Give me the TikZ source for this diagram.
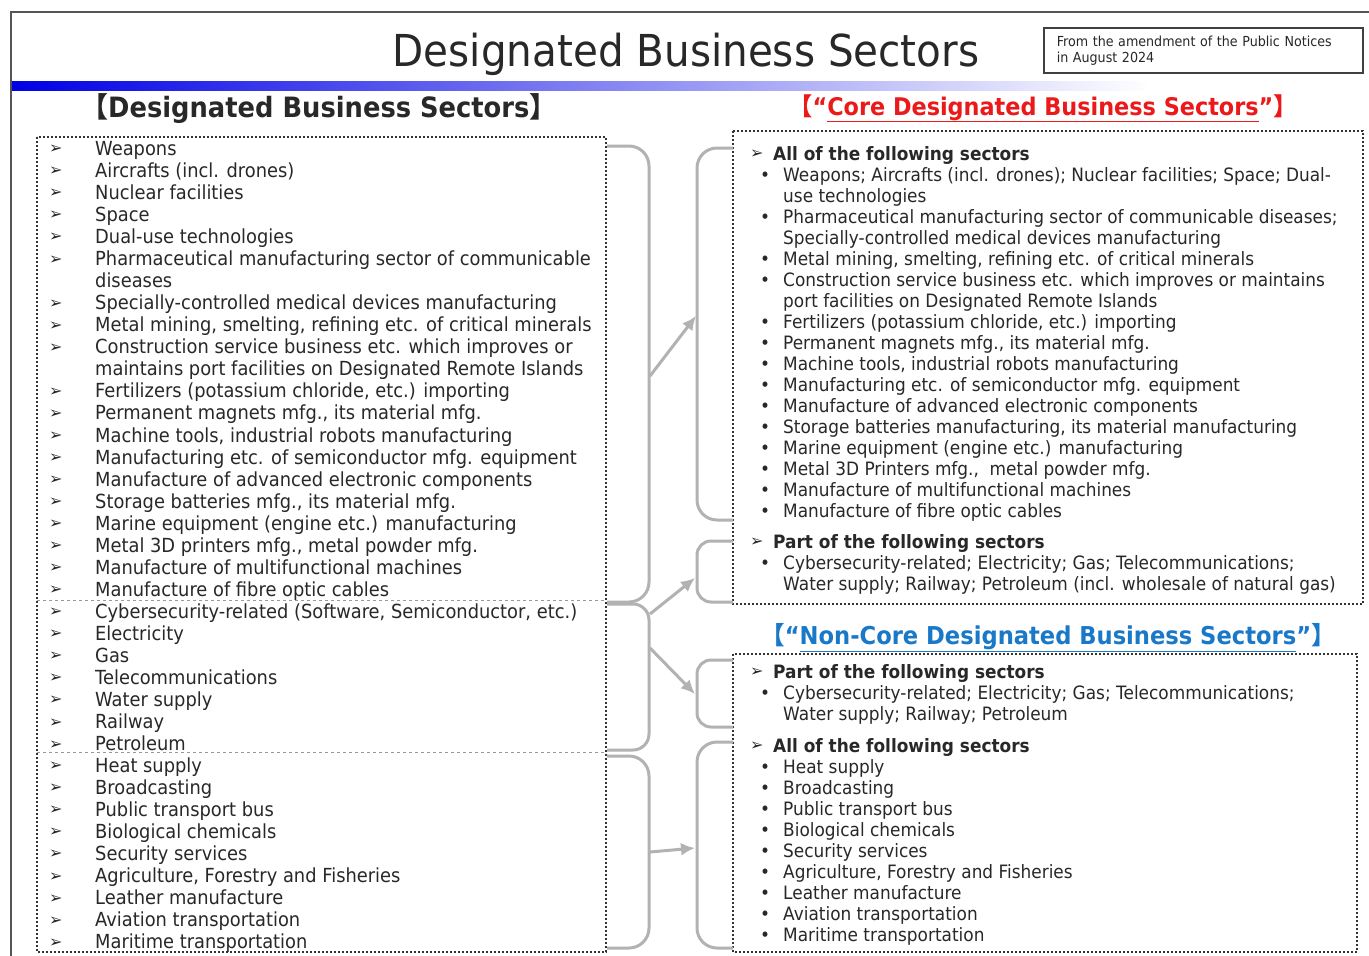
\documentclass[tikz,border=0pt]{standalone}
\usepackage{fontspec}
\setmainfont{DejaVu Sans}[FakeStretch=0.92]
\newfontfamily\cjk{Noto Sans CJK JP}
\newfontfamily\dingfont{DejaVu Sans Bold}
\usetikzlibrary{arrows.meta}

\definecolor{txtgray}{RGB}{40,40,40}
\definecolor{bracegray}{RGB}{178,178,178}
\definecolor{framegray}{RGB}{85,85,85}
\definecolor{coreRed}{RGB}{235,25,25}
\definecolor{noncoreBlue}{RGB}{25,120,200}

% brackets and list helpers
\newcommand{\lb}{\makebox[0.5em][r]{\cjk 【}}
\newcommand{\rb}{\makebox[0.5em][l]{\cjk 】}}
\newcommand{\bul}{\raisebox{1.5pt}{\dingfont\fontsize{16}{16}\selectfont ➢}}
\newcommand{\li}[1]{\makebox[50pt][l]{\hspace*{4pt}\bul}#1}
\newcommand{\lc}[1]{\hspace*{50pt}#1}
\newcommand{\hd}[1]{\makebox[23pt][l]{\bul}\textbf{#1}}
\newcommand{\ri}[1]{\hspace*{10pt}\makebox[23pt][l]{•}#1}
\newcommand{\rc}[1]{\hspace*{33pt}#1}

\begin{document}
\begin{tikzpicture}[x=1pt, y=-1pt, inner sep=0pt]
\tikzstyle{leftlist} = [anchor=north west, align=left, text=txtgray, font=\fontsize{19.4}{22.06}\selectfont]
\tikzstyle{rightlist} = [anchor=north west, align=left, text=txtgray, font=\fontsize{18.4}{21}\selectfont]
\tikzstyle{dotbox} = [draw=black!80, dotted, line width=2pt]
\tikzstyle{sepline} = [draw=black!40, dashed, line width=0.8pt]
\tikzstyle{brace} = [draw=bracegray, line width=3pt, rounded corners=20pt]
\tikzstyle{line} = [draw=bracegray, line width=3pt, -{Latex[length=14pt,width=13pt]}]
\tikzstyle{notebox} = [draw=black!75, line width=1.5pt, anchor=north west, align=left, text width=293pt, minimum height=45pt, inner xsep=13pt, text=txtgray, font=\fontsize{13.8}{16}\selectfont]

\useasboundingbox (0,0) rectangle (1369,956);
\fill[white] (0,0) rectangle (1369,956);

% frame and title bar
\draw[framegray, line width=2pt] (11,956) -- (11,12) -- (1369,12);
\shade[left color=blue!90!black, right color=white] (12,81) rectangle (1150,90);
\node[anchor=base, text=txtgray, font=\fontsize{44}{50}\selectfont] (title) at (686,66) {Designated Business Sectors};
\node[notebox] (note) at (1043,27) {From the amendment of the Public Notices\\in August 2024};

% headings
\node[anchor=base west, text=txtgray, font=\bfseries\fontsize{28}{32}\selectfont] (lefttitle) at (94,117) {\lb Designated Business Sectors\rb};
\node[anchor=base, text=coreRed, font=\bfseries\fontsize{24.3}{30}\selectfont] (coretitle) at (1043,115) {\lb “\underline{Core Designated Business Sectors}”\rb};
\node[anchor=base, text=noncoreBlue, font=\bfseries\fontsize{24.6}{30}\selectfont] (noncoretitle) at (1048,644) {\lb “\underline{Non-Core Designated Business Sectors}”\rb};

% left list
\draw[dotbox] (37,137) rectangle (606,952);
\draw[sepline] (37,600) -- (606,600);
\draw[sepline] (37,752) -- (606,752);
\node[leftlist] (grpA) at (45,139.6) {\strut\li{Weapons}\\
\li{Aircrafts (incl. drones)}\\
\li{Nuclear facilities}\\
\li{Space}\\
\li{Dual-use technologies}\\
\li{Pharmaceutical manufacturing sector of communicable}\\
\lc{diseases}\\
\li{Specially-controlled medical devices manufacturing}\\
\li{Metal mining, smelting, refining etc. of critical minerals}\\
\li{Construction service business etc. which improves or}\\
\lc{maintains port facilities on Designated Remote Islands}\\
\li{Fertilizers (potassium chloride, etc.) importing}\\
\li{Permanent magnets mfg., its material mfg.}\\
\li{Machine tools, industrial robots manufacturing}\\
\li{Manufacturing etc. of semiconductor mfg. equipment}\\
\li{Manufacture of advanced electronic components}\\
\li{Storage batteries mfg., its material mfg.}\\
\li{Marine equipment (engine etc.) manufacturing}\\
\li{Metal 3D printers mfg., metal powder mfg.}\\
\li{Manufacture of multifunctional machines}\\
\li{Manufacture of fibre optic cables}};
\node[leftlist] (grpB) at (45,602.6) {\strut\li{Cybersecurity-related (Software, Semiconductor, etc.)}\\
\li{Electricity}\\
\li{Gas}\\
\li{Telecommunications}\\
\li{Water supply}\\
\li{Railway}\\
\li{Petroleum}};
\node[leftlist] (grpC) at (45,756.6) {\strut\li{Heat supply}\\
\li{Broadcasting}\\
\li{Public transport bus}\\
\li{Biological chemicals}\\
\li{Security services}\\
\li{Agriculture, Forestry and Fisheries}\\
\li{Leather manufacture}\\
\li{Aviation transportation}\\
\li{Maritime transportation}};

% core box
\draw[dotbox] (733,131) rectangle (1363,604);
\node[rightlist] (core) at (750,145.3) {\strut\hd{All of the following sectors}\\
\ri{Weapons; Aircrafts (incl. drones); Nuclear facilities; Space; Dual-}\\
\rc{use technologies}\\
\ri{Pharmaceutical manufacturing sector of communicable diseases;}\\
\rc{Specially-controlled medical devices manufacturing}\\
\ri{Metal mining, smelting, refining etc. of critical minerals}\\
\ri{Construction service business etc. which improves or maintains}\\
\rc{port facilities on Designated Remote Islands}\\
\ri{Fertilizers (potassium chloride, etc.) importing}\\
\ri{Permanent magnets mfg., its material mfg.}\\
\ri{Machine tools, industrial robots manufacturing}\\
\ri{Manufacturing etc. of semiconductor mfg. equipment}\\
\ri{Manufacture of advanced electronic components}\\
\ri{Storage batteries manufacturing, its material manufacturing}\\
\ri{Marine equipment (engine etc.) manufacturing}\\
\ri{Metal 3D Printers mfg.,\ \ metal powder mfg.}\\
\ri{Manufacture of multifunctional machines}\\
\ri{Manufacture of fibre optic cables}\\[10pt]
\hd{Part of the following sectors}\\
\ri{Cybersecurity-related; Electricity; Gas; Telecommunications;}\\
\rc{Water supply; Railway; Petroleum (incl. wholesale of natural gas)}};

% non-core box
\draw[dotbox] (733,654) rectangle (1357,952);
\node[rightlist] (noncore) at (750,663.3) {\strut\hd{Part of the following sectors}\\
\ri{Cybersecurity-related; Electricity; Gas; Telecommunications;}\\
\rc{Water supply; Railway; Petroleum}\\[11pt]
\hd{All of the following sectors}\\
\ri{Heat supply}\\
\ri{Broadcasting}\\
\ri{Public transport bus}\\
\ri{Biological chemicals}\\
\ri{Security services}\\
\ri{Agriculture, Forestry and Fisheries}\\
\ri{Leather manufacture}\\
\ri{Aviation transportation}\\
\ri{Maritime transportation}};

% braces
\draw[brace] (607,146) -| (649,602) -- (607,602);
\draw[brace, rounded corners=16pt] (607,604) -| (649,750) -- (607,750);
\draw[brace] (607,756) -| (649,948) -- (607,948);
\draw[brace] (733,148) -| (697,520) -- (733,520);
\draw[brace, rounded corners=14pt] (733,541) -| (697,602) -- (733,602);
\draw[brace, rounded corners=14pt] (733,660) -| (697,727) -- (733,727);
\draw[brace] (733,742) -| (697,948) -- (733,948);

\coordinate (lA) at (650,376);
\coordinate (lB) at (650,614);
\coordinate (lC) at (650,648);
\coordinate (lD) at (650,852);
\coordinate (rA) at (696,316);
\coordinate (rB) at (695,578);
\coordinate (rC) at (695,694);
\coordinate (rD) at (695,848);

\path [line] (lA) -- (rA);
\path [line] (lB) -- (rB);
\path [line] (lC) -- (rC);
\path [line] (lD) -- (rD);
\end{tikzpicture}
\end{document}
